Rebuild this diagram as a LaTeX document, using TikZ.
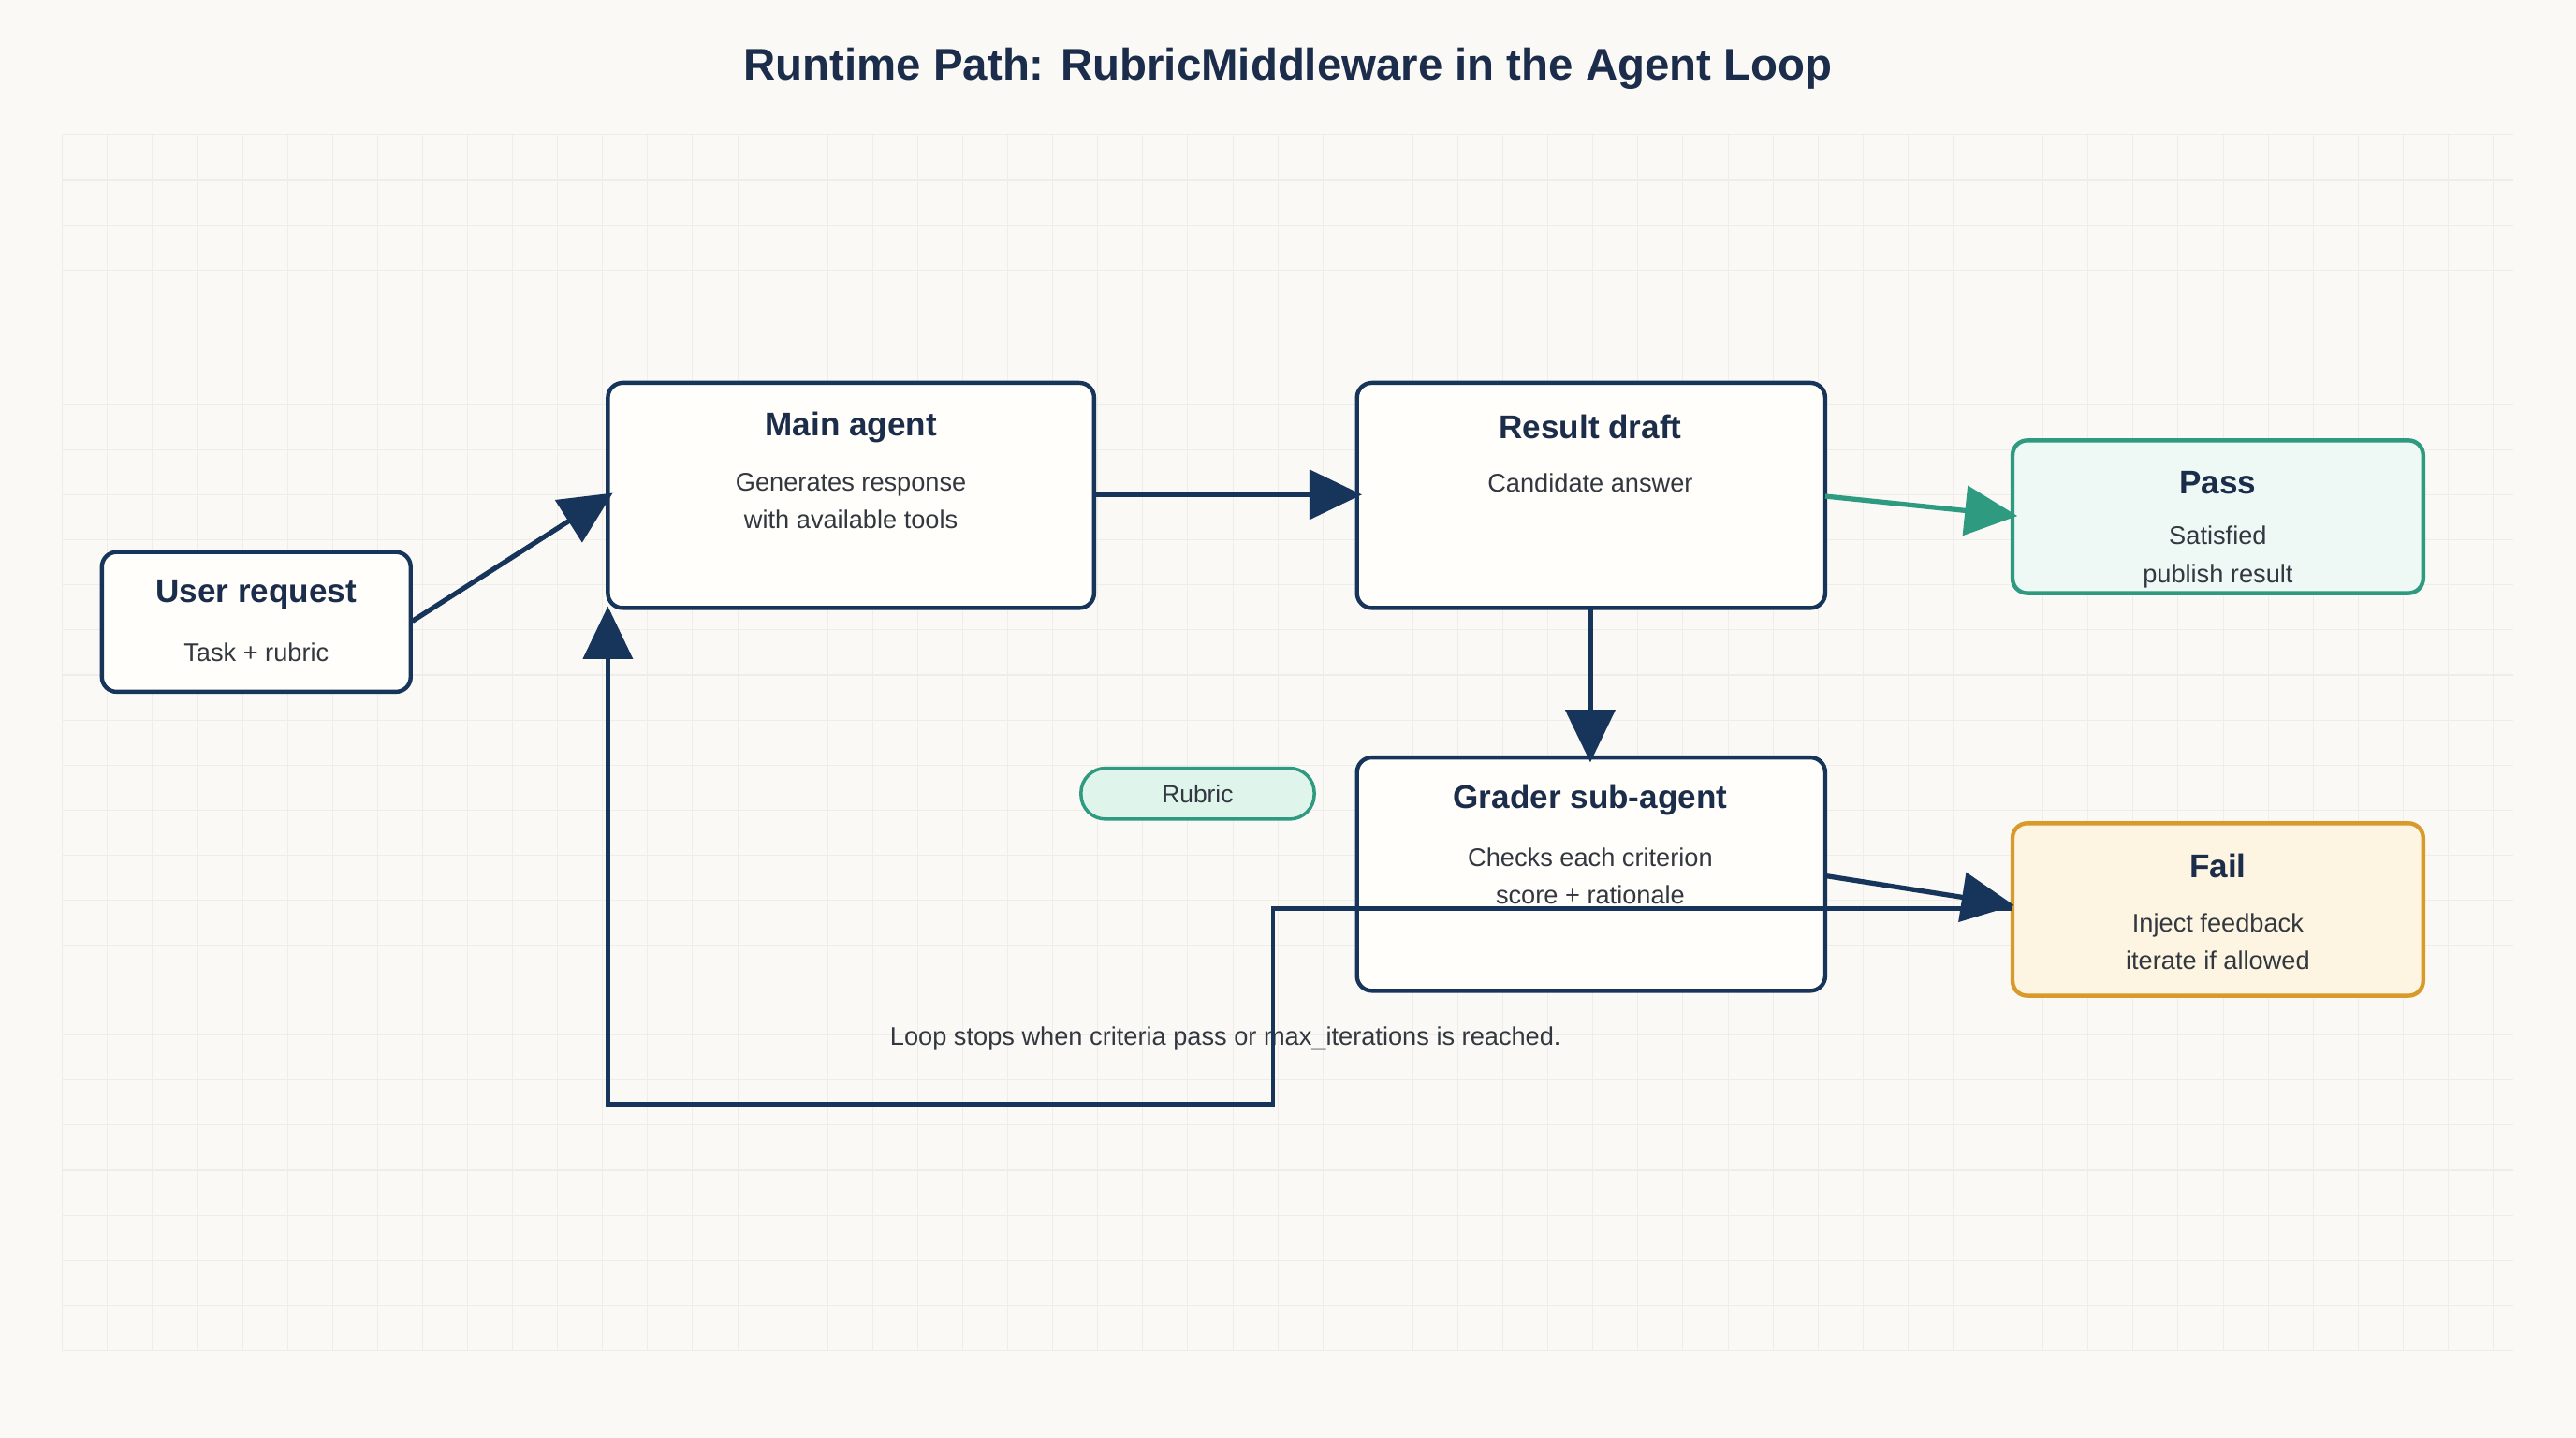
\documentclass[tikz,border=0pt]{standalone}
\usepackage{fontspec}
\setmainfont{Liberation Sans}
\usetikzlibrary{arrows.meta}
\definecolor{navy}{HTML}{17345A}
\definecolor{tnavy}{HTML}{1B2D4A}
\definecolor{sub}{HTML}{333840}
\definecolor{teal}{HTML}{2E9A80}
\definecolor{tealbg}{HTML}{EEF8F5}
\definecolor{pillbg}{HTML}{DFF5EC}
\definecolor{orng}{HTML}{D89A2A}
\definecolor{orngbg}{HTML}{FDF5E1}
\definecolor{bg}{HTML}{FAF9F6}
\definecolor{boxbg}{HTML}{FFFEFA}
\definecolor{grid}{HTML}{EEEDEA}
\begin{document}
\begin{tikzpicture}[x=1pt,y=-1pt,
 box/.style={draw=navy,line width=2.5pt,rounded corners=9pt,fill=boxbg},
 ttl/.style={font=\fontsize{20}{24}\selectfont\bfseries,text=tnavy},
 sb/.style={font=\fontsize{15.5}{23}\selectfont,text=sub,align=center},
 arr/.style={draw=navy,line width=3pt,-{Triangle[length=32pt,width=30pt]}}]
\useasboundingbox (0,0) rectangle (1568,875);
\fill[bg] (0,0) rectangle (1568,875);
\foreach \i in {0,...,27}{\draw[grid,line width=0.6pt] (38,82+27.4*\i) -- (1530,82+27.4*\i);}
\foreach \i in {0,...,54}{\draw[grid,line width=0.6pt] (38+27.4*\i,82) -- (38+27.4*\i,822);}
\node[font=\fontsize{27}{32}\selectfont\bfseries,text=tnavy] (title) at (784,42) {Runtime Path: RubricMiddleware in the Agent Loop};
% boxes
\draw[box] (62,336) rectangle (250,421); \coordinate (user) at (156,378);
\node[ttl] (ut) at (156,362) {User request};
\node[sb] (us) at (156,397) {Task + rubric};
\draw[box] (370,233) rectangle (666,370);
\node[ttl] (mt) at (518,260) {Main agent};
\node[sb] (ms) at (518,305) {Generates response\\with available tools};
\draw[box] (826,233) rectangle (1111,370);
\node[ttl] (rt) at (968,260) {Result draft};
\node[sb] (rs) at (968,294) {Candidate answer};
\draw[box,draw=teal,fill=tealbg] (1225,268) rectangle (1475,361);
\node[ttl] (pt) at (1350,294) {Pass};
\node[sb] (ps) at (1350,339) {Satisfied\\publish result};
\draw[box] (826,461) rectangle (1111,603);
\node[ttl] (gt) at (968,487) {Grader sub-agent};
\node[sb] (gs) at (968,533) {Checks each criterion\\score + rationale};
\draw[box,draw=orng,fill=orngbg] (1225,501) rectangle (1475,606);
\node[ttl] (ft) at (1350,527) {Fail};
\node[sb] (fs) at (1350,573) {Inject feedback\\iterate if allowed};
\node[draw=teal,fill=pillbg,line width=2pt,rounded corners=15pt,minimum width=142pt,minimum height=31pt,font=\fontsize{15}{18}\selectfont,text=sub] (rub) at (729,483) {Rubric};
\node[sb] (note) at (746,632) {Loop stops when criteria pass or max\_iterations is reached.};
% connectors
\coordinate (a1) at (251,378); \coordinate (a2) at (373,300);
\draw[arr] (a1) -- (a2);
\coordinate (b1) at (666,301); \coordinate (b2) at (829,301);
\draw[arr] (b1) -- (b2);
\coordinate (c1) at (1111,302); \coordinate (c2) at (1228,314);
\draw[arr,draw=teal] (c1) -- (c2);
\coordinate (d1) at (968,370); \coordinate (d2) at (968,464);
\draw[arr] (d1) -- (d2);
\coordinate (e1) at (1111,533); \coordinate (e2) at (1226,551);
\draw[arr] (e1) -- (e2);
\coordinate (l0) at (1225,553); \coordinate (l1) at (775,553); \coordinate (l2) at (775,672);
\coordinate (l3) at (370,672); \coordinate (l4) at (370,369);
\draw[arr,line width=2.5pt] (l0) -- (l1) -- (l2) -- (l3) -- (l4);
\end{tikzpicture}
\end{document}
